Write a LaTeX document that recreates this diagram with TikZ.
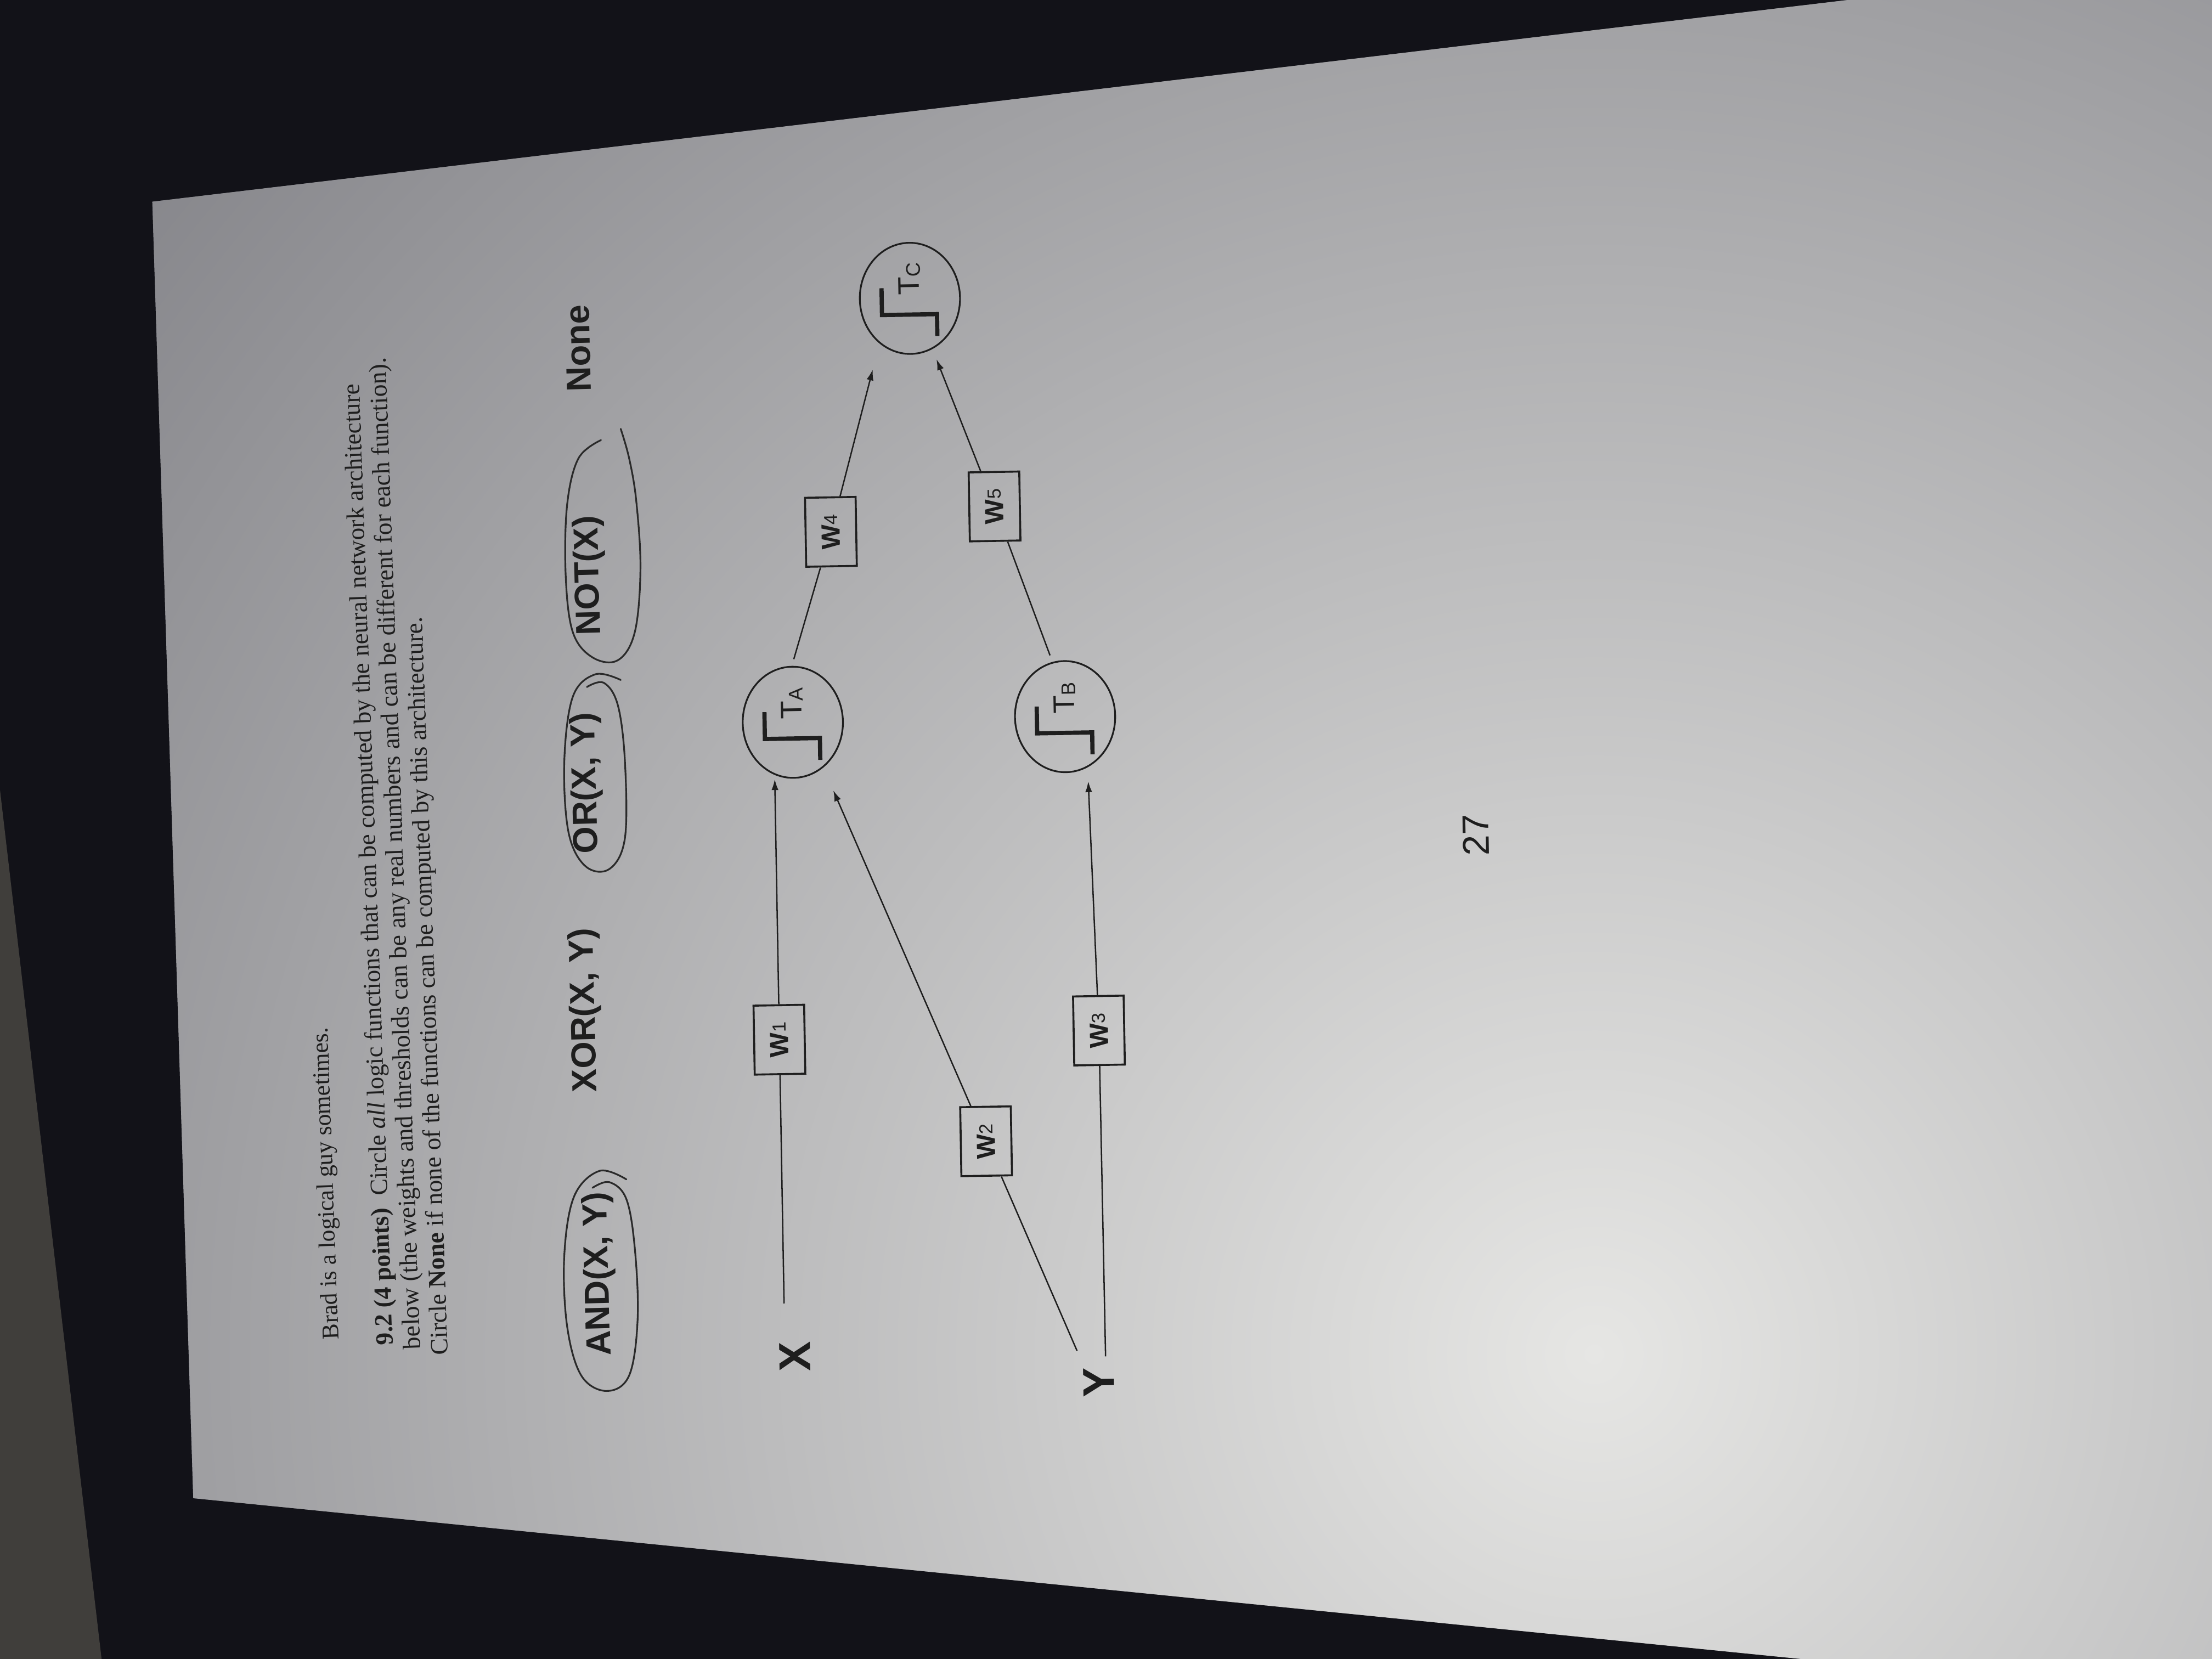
\documentclass[tikz,border=0pt]{standalone}
\usepackage{graphicx}
\usepackage{fontspec}
\setmainfont{Liberation Serif}
\setsansfont{Liberation Sans}
\usetikzlibrary{shapes.geometric, arrows.meta, calc}
\definecolor{ink}{HTML}{1E1E1E}
\definecolor{penink}{HTML}{2A2A2A}
\definecolor{bgdark}{HTML}{121218}
\definecolor{desk}{HTML}{403E3B}
\definecolor{pagelight}{HTML}{E6E6E4}
\definecolor{pagedark}{HTML}{85858A}
\newcommand{\wl}[1]{W\raisebox{0.5pt}{\mdseries\fontsize{3.8}{4}\selectfont #1}}
\newcommand{\stepglyph}[2]{%
  \begin{scope}[shift={(#1.center)}, rotate=91, x=0.01cm, y=0.01cm]
    \draw[glyph] (-27,-19) -- (-11.5,-19) -- (-11.5,20) -- (7.5,20);
    \node[tlab, anchor=base west] (#1lab) at (1.5,-6.5) {T\raisebox{-0.3pt}{\fontsize{4}{4}\selectfont #2}};
  \end{scope}}
\begin{document}
\begin{tikzpicture}[x=0.01cm, y=-0.01cm,
  bodytxt/.style={rotate=92, inner sep=0, anchor=base west, text=ink, font=\fontsize{5}{6}\selectfont},
  opt/.style={rotate=91.5, inner sep=0, text=ink, font=\sffamily\bfseries\fontsize{7}{8}\selectfont},
  lbl/.style={rotate=91, inner sep=0, text=ink, font=\sffamily\bfseries\fontsize{9}{10}\selectfont},
  pen/.style={draw=penink, line width=0.35pt, line cap=round, line join=round},
  neuron/.style={ellipse, draw=ink, line width=0.35pt, minimum width=22.4pt, minimum height=20.2pt, inner sep=0, rotate=91},
  wbox/.style={rectangle, draw=ink, line width=0.4pt, minimum width=13.9pt, minimum height=10.2pt, inner sep=0, rotate=91, text=ink, font=\sffamily\bfseries\fontsize{5.3}{6}\selectfont},
  glyph/.style={draw=ink, line width=0.85pt},
  tlab/.style={inner sep=0, transform shape, text=ink, font=\sffamily\fontsize{6}{7}\selectfont},
  wire/.style={draw=ink, line width=0.28pt},
  arr/.style={-{Latex[length=2.2pt,width=1.4pt]}}
]
\useasboundingbox (0,0) rectangle (1568,1176);
% background
\fill[bgdark] (0,0) rectangle (1568,1176);
\fill[desk] (0,560) -- (72,1176) -- (0,1176) -- cycle;
% page
\begin{scope}
  \clip (108,143) -- (1310,0) -- (1568,0) -- (1568,1176) -- (1277,1176) -- (137,1062) -- cycle;
  \fill[pagedark] (0,0) rectangle (1568,1176);
  \shade[inner color=pagelight, outer color=pagedark] (1130,960) circle (1350);
\end{scope}

% header text
\node[bodytxt] (l1) at (240,950) {\resizebox{62.9pt}{!}{Brad is a logical guy sometimes.}};
\node[bodytxt] (l2) at (278.5,954) {\resizebox{193.8pt}{!}{\textbf{9.2 (4 points)}\ \ Circle \textit{all} logic functions that can be computed by the neural network architecture}};
\node[bodytxt] (l3) at (298,957) {\resizebox{200pt}{!}{below (the weights and thresholds can be any real numbers and can be different for each function).}};
\node[bodytxt] (l4) at (317.5,961) {\resizebox{148.8pt}{!}{Circle \textbf{None} if none of the functions can be computed by this architecture.}};

% options
\node[opt] (and) at (425,903) {AND(X, Y)};
\node[opt] (xor) at (415,716) {XOR(X, Y)};
\node[opt] (or) at (416,555) {OR(X, Y)};
\node[opt] (not) at (418,408) {NOT(X)};
\node[opt] (none) at (410,247) {None};

% hand-drawn loops
\draw[pen] plot[smooth, tension=0.6] coordinates {(444,836) (425,830) (407,848) (400,890) (402,940) (412,975) (430,986) (446,975) (452,935) (450,885) (444,850) (432,838) (420,842)};
\draw[pen] plot[smooth, tension=0.6] coordinates {(440,482) (422,478) (406,494) (400,540) (403,590) (415,614) (432,616) (443,594) (443,540) (438,500) (428,484) (416,487)};
\draw[pen] plot[smooth, tension=0.6] coordinates {(426,312) (410,325) (402,358) (401,408) (406,448) (420,466) (438,468) (450,448) (454,403) (451,355) (446,325) (440,304)};

% network
\node[lbl] (X) at (563.6,961.5) {X};
\node[lbl] (Y) at (779,980) {Y};
\node[neuron] (TA) at (562,512) {};
\node[neuron] (TB) at (755,508) {};
\node[neuron] (TC) at (645,211.5) {};
\stepglyph{TA}{A}
\stepglyph{TB}{B}
\stepglyph{TC}{C}

\node[wbox] (W1) at (552.5,737) {\wl{1}};
\node[wbox] (W2) at (699,809) {\wl{2}};
\node[wbox] (W3) at (779,730.5) {\wl{3}};
\node[wbox] (W4) at (589,377) {\wl{4}};
\node[wbox] (W5) at (705,359) {\wl{5}};

\coordinate (xs) at (555.8,924);
\coordinate (ys1) at (783.7,961.5);
\coordinate (ys2) at (763.5,957.6);

\draw[wire] (xs) -- (W1);
\draw[wire, arr, shorten >=0.85pt] (W1) -- (TA.160);
\draw[wire] (ys2) -- (W2);
\draw[wire, arr, shorten >=5pt] (W2) -- (TA.213);
\draw[wire] (ys1) -- (W3);
\draw[wire, arr, shorten >=2.8pt] (W3) -- (TB.203);
\draw[wire, shorten <=1.4pt] (TA.0) -- (W4);
\draw[wire, arr, shorten >=5.4pt] (W4) -- (TC.145);
\draw[wire, shorten <=1.4pt] (TB.12) -- (W5);
\draw[wire, arr, shorten >=2.2pt] (W5) -- (TC.203);

% page number
\node[rotate=91, inner sep=0, text=ink, font=\sffamily\fontsize{7.5}{8}\selectfont] (pg) at (1046,592) {27};
\end{tikzpicture}
\end{document}
